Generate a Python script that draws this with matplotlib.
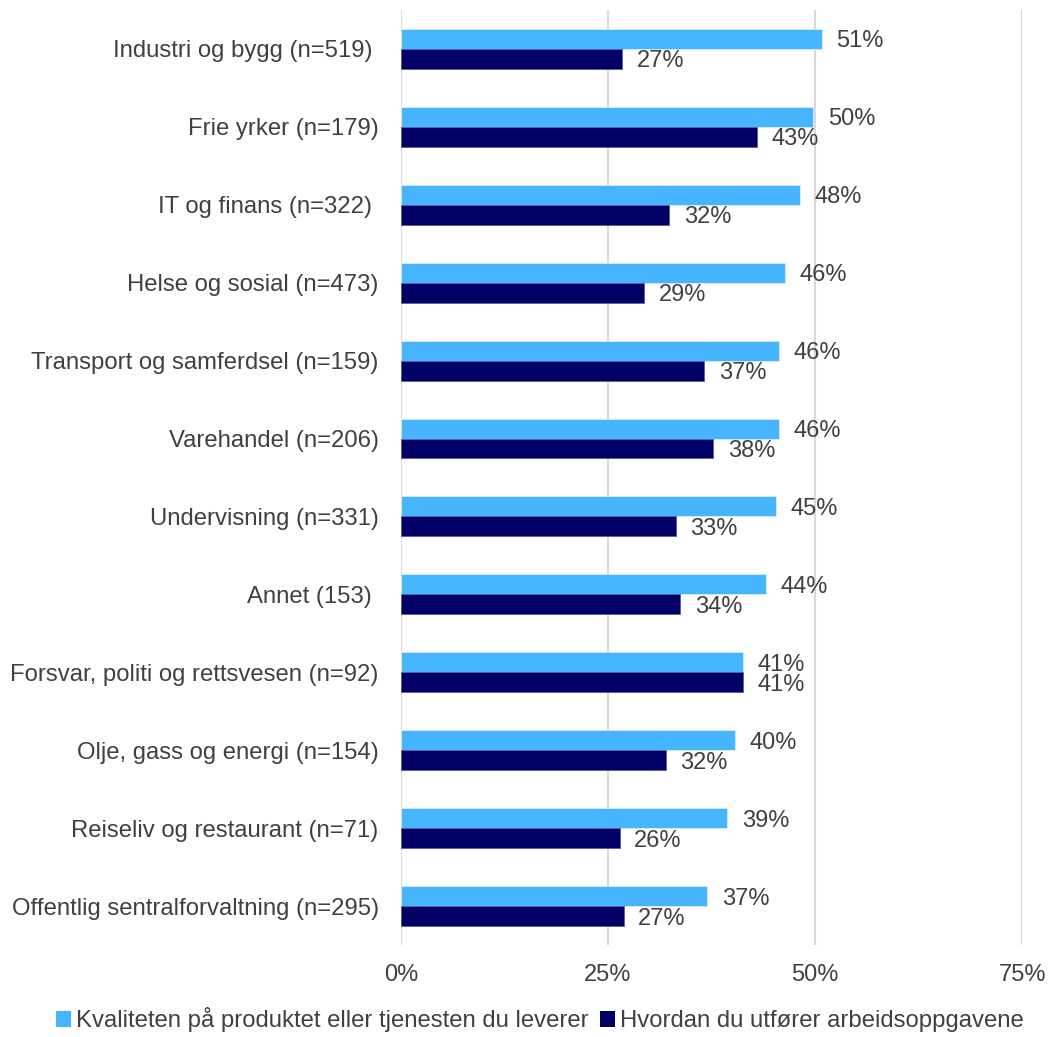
import numpy as np
import matplotlib.pyplot as plt
from matplotlib.patches import Patch

plt.rcParams["font.family"] = ["Liberation Sans", "DejaVu Sans"]

# sectors, top to bottom
categories = [
    "Industri og bygg (n=519) ",
    "Frie yrker (n=179)",
    "IT og finans (n=322) ",
    "Helse og sosial (n=473)",
    "Transport og samferdsel (n=159)",
    "Varehandel (n=206)",
    "Undervisning (n=331)",
    "Annet (153) ",
    "Forsvar, politi og rettsvesen (n=92)",
    "Olje, gass og energi (n=154)",
    "Reiseliv og restaurant (n=71)",
    "Offentlig sentralforvaltning (n=295)",
]

kvalitet = [50.8, 49.8, 48.2, 46.4, 45.7, 45.7, 45.3, 44.1, 41.3, 40.3, 39.4, 37.0]
utforer = [26.7, 43.0, 32.4, 29.4, 36.6, 37.7, 33.2, 33.7, 41.3, 32.0, 26.4, 26.9]

series_names = [
    "Kvaliteten på produktet eller tjenesten du leverer",
    "Hvordan du utfører arbeidsoppgavene",
]
colors = ["#47B4FF", "#000066"]
text_color = "#404040"

fig = plt.figure(figsize=(10.48, 10.37), dpi=100)
ax = fig.add_axes([0.3826, 0.0887, 0.5926, 0.9017])

y = np.arange(len(categories))
h = 0.256

bars_a = ax.barh(y - h / 2, kvalitet, height=h, color=colors[0],
                 edgecolor="#D6EEFF", linewidth=0.6, zorder=3)
bars_b = ax.barh(y + h / 2, utforer, height=h, color=colors[1],
                 edgecolor="#5A5AA0", linewidth=0.6, zorder=3)

for bars, vals in [(bars_a, kvalitet), (bars_b, utforer)]:
    for b, v in zip(bars, vals):
        ax.annotate(f"{v:.0f}%", (v, b.get_y() + b.get_height() / 2),
                    xytext=(10.5, -1.8), textcoords="offset points",
                    ha="left", va="center", fontsize=17, color=text_color)

ax.set_xlim(0, 75)
ax.set_ylim(len(categories) - 0.5, -0.5)
ax.set_xticks([0, 25, 50, 75])
ax.set_xticklabels(["0%", "25%", "50%", "75%"])
ax.set_yticks(y)
ax.set_yticklabels(categories, fontsize=17.2)
ax.tick_params(axis="x", labelsize=17)
ax.tick_params(axis="both", length=0, colors=text_color)
ax.tick_params(axis="y", pad=16)
ax.tick_params(axis="x", pad=14)
for s in ax.spines.values():
    s.set_visible(False)
ax.xaxis.grid(True, color="#D9D9D9", linewidth=1.5, zorder=0)
ax.set_axisbelow(True)

handles = [Patch(facecolor=c, edgecolor="none") for c in colors]
leg = fig.legend(handles, series_names, loc="lower center", ncol=2,
                 bbox_to_anchor=(0.515, -0.016), frameon=False, fontsize=17.2,
                 handlelength=0.65, handleheight=0.65, handletextpad=0.2,
                 columnspacing=0.45)
for t in leg.get_texts():
    t.set_color(text_color)

fig.savefig("out.png", dpi=100)
